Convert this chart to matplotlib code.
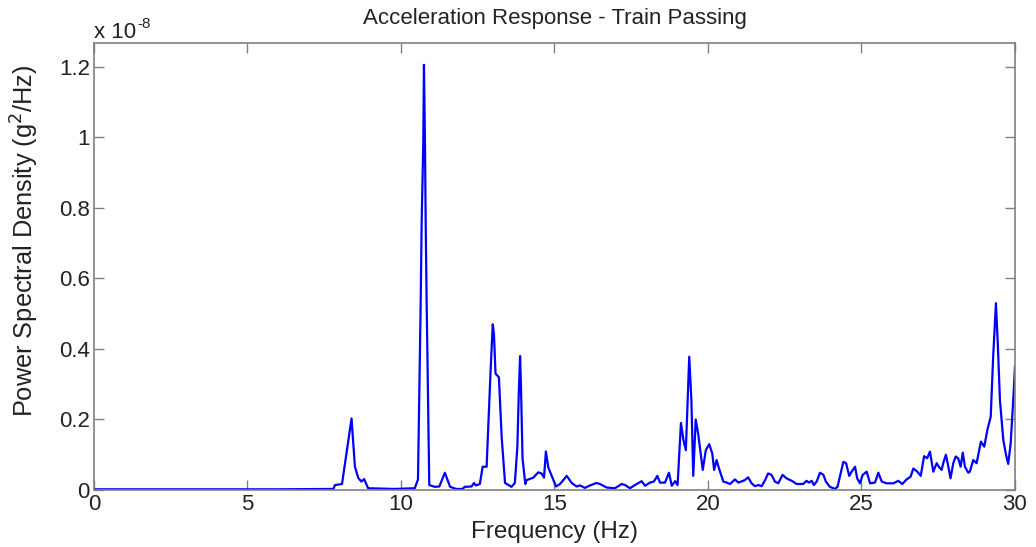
import matplotlib.pyplot as plt
import matplotlib.transforms as mtransforms
import numpy as np

plt.rcParams['font.family'] = ['Liberation Sans', 'DejaVu Sans']

# frequency (Hz) and PSD (units of 1e-8 g^2/Hz)
freq = [0.0, 2.0, 4.0, 6.0, 7.8, 7.85, 8.08, 8.39, 8.5, 8.61, 8.71, 8.8, 8.93,
        9.8, 10.45, 10.554, 10.642, 10.674, 10.726, 10.749, 10.782, 10.805, 10.837, 10.922,
        11.1, 11.25, 11.43, 11.6, 11.8, 12.0, 12.08, 12.3, 12.38, 12.44, 12.57, 12.66,
        12.79, 12.92, 12.99, 13.03, 13.08, 13.19, 13.28, 13.39, 13.6, 13.71, 13.79,
        13.84, 13.88, 13.91, 13.96, 14.05, 14.09, 14.31, 14.47, 14.58, 14.66, 14.72,
        14.8, 14.91, 15.05, 15.18, 15.4, 15.56, 15.72, 15.83, 15.99, 16.16, 16.37,
        16.48, 16.7, 16.97, 17.19, 17.3, 17.46, 17.62, 17.84, 17.95, 18.11, 18.24,
        18.35, 18.44, 18.6, 18.73, 18.82, 18.93, 19.01, 19.12, 19.2, 19.28, 19.39,
        19.46, 19.52, 19.6, 19.68, 19.76, 19.83, 19.93, 20.04, 20.14, 20.2, 20.28,
        20.36, 20.5, 20.61, 20.72, 20.88, 20.99, 21.2, 21.31, 21.42, 21.53, 21.64,
        21.75, 21.86, 21.96, 22.07, 22.18, 22.29, 22.43, 22.56, 22.73, 22.89, 23.1,
        23.21, 23.29, 23.38, 23.45, 23.54, 23.65, 23.76, 23.84, 23.97, 24.14, 24.22,
        24.32, 24.41, 24.5, 24.6, 24.68, 24.79, 24.86, 24.95, 25.04, 25.17, 25.28,
        25.44, 25.55, 25.66, 25.82, 26.04, 26.2, 26.33, 26.47, 26.6, 26.69, 26.82,
        26.93, 27.04, 27.14, 27.23, 27.34, 27.45, 27.52, 27.61, 27.67, 27.75, 27.83,
        27.9, 27.99, 28.07, 28.15, 28.23, 28.3, 28.37, 28.48, 28.53, 28.64, 28.75,
        28.89, 29.0, 29.1, 29.21, 29.29, 29.38, 29.44, 29.51, 29.62, 29.71, 29.78,
        29.86, 29.95, 30.0]
psd = [0.002, 0.002, 0.002, 0.002, 0.003, 0.014, 0.017, 0.203, 0.066, 0.034, 0.024, 0.031, 0.005,
       0.003, 0.005, 0.03, 0.53, 0.76, 0.98, 1.206, 0.98, 0.76, 0.53, 0.014,
       0.009, 0.01, 0.049, 0.009, 0.003, 0.003, 0.009, 0.01, 0.02, 0.013, 0.017, 0.066,
       0.066, 0.34, 0.47, 0.44, 0.33, 0.32, 0.15, 0.02, 0.009, 0.02, 0.12,
       0.28, 0.38, 0.29, 0.09, 0.017, 0.028, 0.035, 0.05, 0.047, 0.035, 0.109,
       0.064, 0.04, 0.01, 0.017, 0.04, 0.02, 0.01, 0.013, 0.006, 0.013, 0.02,
       0.017, 0.007, 0.005, 0.017, 0.014, 0.005, 0.014, 0.025, 0.012, 0.021, 0.024,
       0.04, 0.021, 0.021, 0.049, 0.012, 0.025, 0.014, 0.19, 0.142, 0.113, 0.378,
       0.255, 0.04, 0.2, 0.16, 0.104, 0.057, 0.113, 0.13, 0.104, 0.057, 0.085,
       0.061, 0.024, 0.021, 0.017, 0.03, 0.021, 0.028, 0.036, 0.019, 0.011, 0.014,
       0.011, 0.028, 0.047, 0.043, 0.024, 0.019, 0.043, 0.033, 0.026, 0.017, 0.017,
       0.026, 0.021, 0.026, 0.014, 0.024, 0.049, 0.043, 0.024, 0.009, 0.003, 0.009,
       0.047, 0.08, 0.076, 0.04, 0.052, 0.066, 0.033, 0.019, 0.043, 0.052, 0.019,
       0.021, 0.049, 0.024, 0.019, 0.019, 0.026, 0.017, 0.03, 0.038, 0.061, 0.052,
       0.04, 0.096, 0.09, 0.109, 0.052, 0.076, 0.066, 0.057, 0.078, 0.1, 0.066,
       0.033, 0.076, 0.095, 0.09, 0.066, 0.106, 0.066, 0.049, 0.052, 0.085, 0.076,
       0.137, 0.123, 0.17, 0.208, 0.378, 0.53, 0.416, 0.255, 0.142, 0.099, 0.074,
       0.132, 0.265, 0.35]

xticks = [0, 5, 10, 15, 20, 25, 30]
yticks = [0, 0.2, 0.4, 0.6, 0.8, 1.0, 1.2]
ytick_labels = ['0', '0.2', '0.4', '0.6', '0.8', '1', '1.2']

fig = plt.figure(figsize=(10.36, 5.47), dpi=100)
ax = fig.add_axes([0.0907, 0.1042, 0.8890, 0.8172])
ax.plot(freq, psd, color='#0000ff', lw=1.6)

ax.set_xlim(0, 30)
ax.set_ylim(0, 1.268)
ax.set_xticks(xticks)
ax.set_xticklabels([str(t) for t in xticks])
ax.set_yticks(yticks)
ax.set_yticklabels(ytick_labels)
ax.tick_params(direction='in', length=7, width=1, colors='#808080',
               labelcolor='#222222', labelsize=16, top=True, right=True, pad=3)
for s in ax.spines.values():
    s.set_color('#808080')
    s.set_linewidth(1.2)

ax.set_title('Acceleration Response - Train Passing', fontsize=16, color='#222222', pad=14)
ax.set_xlabel('Frequency (Hz)', fontsize=17.5, color='#222222', labelpad=4)
ax.set_ylabel('Power Spectral Density (g$^2$/Hz)', fontsize=18.3, color='#222222')
ax.yaxis.set_label_coords(-0.058, 0.557)

# MATLAB-style exponent label above the y axis
ax.text(0.0, 1.012, 'x 10', transform=ax.transAxes, fontsize=16,
        color='#222222', ha='left', va='baseline')
sup = mtransforms.offset_copy(ax.transAxes, fig=fig, x=43, y=10, units='dots')
ax.text(0.0, 1.012, '-8', transform=sup, fontsize=11,
        color='#222222', ha='left', va='baseline')

fig.savefig('out.png', dpi=100)
